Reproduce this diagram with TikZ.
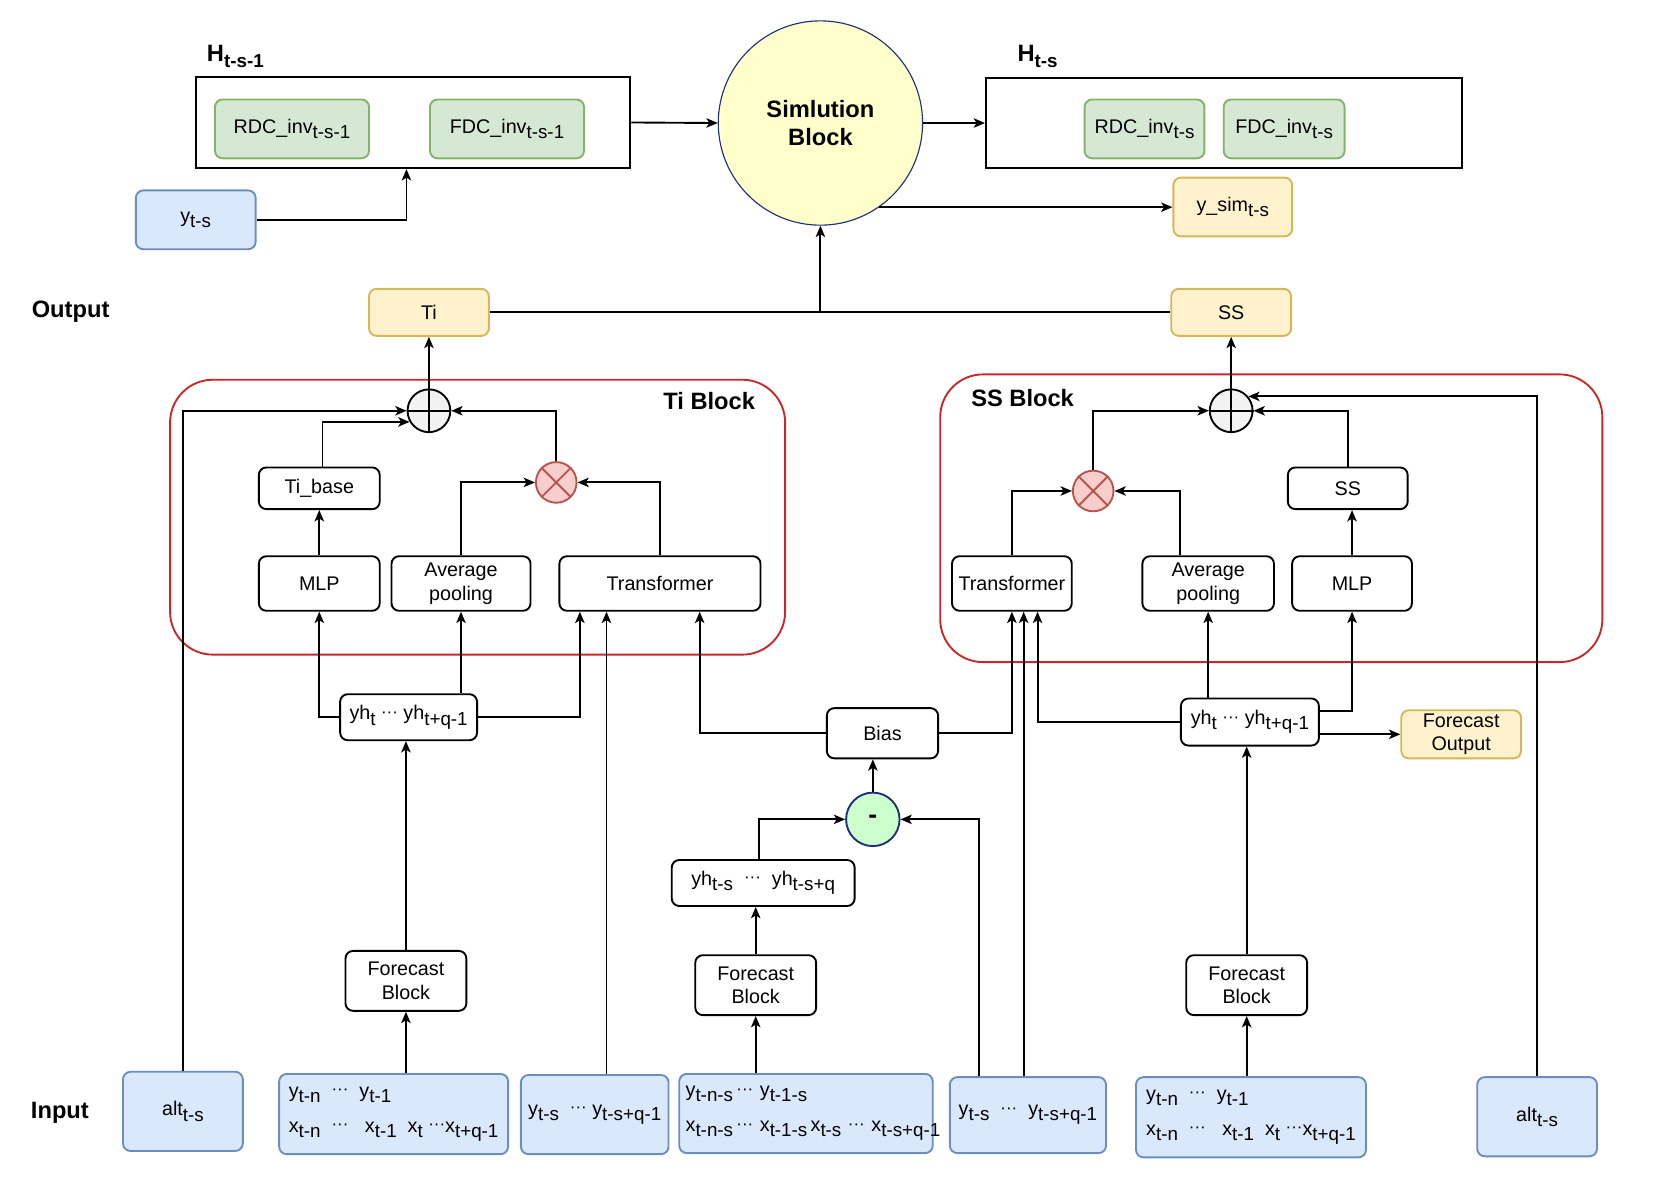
\documentclass[tikz,border=0pt]{standalone}
\usepackage{fontspec}
\setmainfont{Liberation Sans}
\usetikzlibrary{arrows.meta}

\definecolor{bluefill}{HTML}{DAE8FC}
\definecolor{blueline}{HTML}{6C8EBF}
\definecolor{greenfill}{HTML}{D5E8D4}
\definecolor{greenline}{HTML}{82B366}
\definecolor{yelfill}{HTML}{FFF2CC}
\definecolor{yelline}{HTML}{D6B656}
\definecolor{pinkfill}{HTML}{F8CECC}
\definecolor{pinkline}{HTML}{B85450}
\definecolor{blockred}{HTML}{C8282C}
\definecolor{simfill}{HTML}{FFFFCC}
\definecolor{navy}{HTML}{1F2F7A}
\definecolor{minusfill}{HTML}{CCFFCC}

\newcommand{\sub}[1]{\raisebox{-0.5ex}{\fontsize{10}{10}\selectfont#1}}
\newcommand{\dd}{\raisebox{0.25ex}{\fontsize{9}{9}\selectfont ···}}

\tikzset{
  base/.style={font=\fontsize{10.5}{12.6}\selectfont, inner sep=0pt, align=center},
  wh/.style 2 args={minimum width=#1*0.2mm, minimum height=#2*0.2mm},
  box/.style={base, draw, rounded corners=4pt, line width=1pt},
  bluebox/.style={box, fill=bluefill, draw=blueline},
  greenbox/.style={box, fill=greenfill, draw=greenline},
  yelbox/.style={box, fill=yelfill, draw=yelline},
  hbox/.style={base, draw, line width=1.3pt},
  lbl/.style={base, font=\bfseries\fontsize{12.6}{15.3}\selectfont},
  plusring/.style={base, circle, draw, fill=black!5, line width=1pt, minimum size=40*0.2mm},
  mulring/.style={base, circle, draw=pinkline, fill=pinkfill, line width=1pt, minimum size=38*0.2mm},
  blockline/.style={draw=blockred, line width=1pt, rounded corners=8mm},
  arr/.style={line width=1pt, -{Stealth[length=6pt,width=5pt,inset=1.5pt]}},
  ln/.style={line width=1pt}
}

\begin{document}
\begin{tikzpicture}[x=0.2mm, y=-0.2mm]
	\useasboundingbox (0,0) rectangle (1565,1108);
	% top row
	\node[lbl] (hprevlbl) at (220,53) {H\sub{t-s-1}};
	\node[hbox, wh={406}{85}] (hprev) at (386,114.5) {};
	\node[greenbox, wh={144}{55}] (rdc1) at (273,120.5) {RDC\_inv\sub{t-s-1}};
	\node[greenbox, wh={144}{55}] (fdc1) at (474,120.5) {FDC\_inv\sub{t-s-1}};
	\node[bluebox, wh={112}{55}] (yts) at (183,205.5) {y\sub{t-s}};
	\node[base, circle, draw=navy, fill=simfill, line width=0.6pt, minimum size=191*0.2mm,
	      font=\bfseries\fontsize{12.6}{15.3}\selectfont] (sim) at (767,115) {Simlution\\Block};
	\node[lbl] (hnextlbl) at (970,53) {H\sub{t-s}};
	\node[hbox, wh={445}{84}] (hnext) at (1144.5,115) {};
	\node[greenbox, wh={112}{55}] (rdc2) at (1070,120.5) {RDC\_inv\sub{t-s}};
	\node[greenbox, wh={113}{55}] (fdc2) at (1200.5,120.5) {FDC\_inv\sub{t-s}};
	\node[yelbox, wh={111}{55}] (ysim) at (1152.5,193.5) {y\_sim\sub{t-s}};
	\draw[arr] (yts.east) -| ([xshift=-1.2mm]hprev.south);
	\draw[arr] (hprev.east) -- (sim.west);
	\draw[arr] (sim.east) -- (hnext.west);
	\draw[arr] (sim.-55) -- (sim.-55 -| ysim.west);

	% outputs
	\node[lbl] (outlbl) at (66,291) {Output};
	\node[yelbox, wh={112}{44}] (ti) at (401,292) {Ti};
	\node[yelbox, wh={112}{44}] (ss) at (1151,292) {SS};
	\draw[ln] (ti.east) -- (ss.west);
	\draw[arr] (ti.east -| sim.south) -- (sim.south);

	% Ti block
	\draw[blockline] (159,355) rectangle (734,612);
	\node[lbl] (tiblk) at (663,375) {Ti Block};
	\node[plusring] (plus1) at (401,384) {};
	\draw[ln] (plus1.north) -- (plus1.south) (plus1.west) -- (plus1.east);
	\node[box, wh={113}{39}] (tibase) at (298.5,456.5) {Ti\_base};
	\node[mulring] (mul1) at (520,451) {};
	\draw[ln, pinkline] (mul1.45) -- (mul1.225) (mul1.135) -- (mul1.315);
	\node[box, wh={113}{51}] (mlp1) at (298.5,545.5) {MLP};
	\node[box, wh={130}{51}] (avg1) at (431,545.5) {Average\\pooling};
	\node[box, wh={188}{51}] (tr1) at (617,545.5) {Transformer};
	\node[box, wh={128}{43}] (yh1) at (382,670.5) {yh\sub{t} \dd\ yh\sub{t+q-1}};
	\node[box, wh={113}{56}] (fb1) at (379.5,917) {Forecast\\Block};
	\draw[arr] (plus1.north) -- (ti.south);
	\draw[arr] ([xshift=0.6mm]tibase.north) |- (plus1.210);
	\draw[arr] (mlp1) -- (tibase);
	\draw[arr] (avg1.north) |- (mul1.west);
	\draw[arr] (tr1.north) |- (mul1.east);
	\draw[arr] (mul1.north) |- (plus1.east);
	\draw[arr] (yh1.west) -| (mlp1.south);
	\draw[arr] (yh1.north -| avg1.south) -- (avg1.south);
	\draw[arr] (yh1.east) -| ([xshift=4mm]tr1.south west);
	\draw[arr] (fb1.north) -- (fb1.north |- yh1.south);

	% SS block
	\draw[blockline] (879,350) rectangle (1498,619);
	\node[lbl] (ssblk) at (956,372) {SS Block};
	\node[plusring] (plus2) at (1151,384) {};
	\draw[ln] (plus2.north) -- (plus2.south) (plus2.west) -- (plus2.east);
	\node[mulring] (mul2) at (1022,459) {};
	\draw[ln, pinkline] (mul2.45) -- (mul2.225) (mul2.135) -- (mul2.315);
	\node[box, wh={112}{39}] (ssin) at (1260,456.5) {SS};
	\node[box, wh={112}{51}] (tr2) at (946,545.5) {Transformer};
	\node[box, wh={123}{51}] (avg2) at (1129.5,545.5) {Average\\pooling};
	\node[box, wh={112}{51}] (mlp2) at (1264,545.5) {MLP};
	\node[box, wh={129}{44}] (yh2) at (1168.5,675) {yh\sub{t} \dd\ yh\sub{t+q-1}};
	\node[yelbox, wh={112}{45}] (fcout) at (1366,686.5) {Forecast\\Output};
	\node[box, wh={113}{56}] (fb3) at (1165.5,921) {Forecast\\Block};
	\draw[arr] (plus2.north) -- (ss.south);
	\draw[arr] (ssin.north) |- (plus2.east);
	\draw[arr] (mul2.north) |- (plus2.west);
	\draw[arr] (tr2.north) |- (mul2.west);
	\draw[arr] ([xshift=-5.3mm]avg2.north) |- (mul2.east);
	\draw[arr] (mlp2.north) -- (mlp2.north |- ssin.south);
	\draw[arr] (yh2.north -| avg2.south) -- (avg2.south);
	\draw[arr] ([yshift=2mm]yh2.east) -| (mlp2.south);
	\draw[arr] (yh2.east |- fcout.west) -- (fcout.west);
	\draw[arr] (yh2.west) -| ([xshift=4.8mm]tr2.south);
	\draw[arr] (fb3.north) -- (fb3.north |- yh2.south);

	% bias path
	\node[box, wh={104}{47}] (bias) at (825,685.5) {Bias};
	\node[base, circle, draw=navy, fill=minusfill, line width=1pt, minimum size=50*0.2mm,
	      font=\bfseries\fontsize{14}{14}\selectfont] (minus) at (816,766) {-};
	\node[box, wh={171}{43}] (yh3) at (713.5,825.5) {yh\sub{t-s} \ \dd\ \ yh\sub{t-s+q}};
	\node[box, wh={113}{56}] (fb2) at (706.5,921) {Forecast\\Block};
	\draw[arr] (bias.west) -| ([xshift=26.4mm]tr1.south west);
	\draw[arr] (bias.east) -| (tr2.south);
	\draw[arr] (minus.north) -- (minus.north |- bias.south);
	\draw[arr] ([xshift=-0.8mm]yh3.north) |- (minus.west);
	\draw[arr] (fb2.north) -- (fb2.north |- yh3.south);

	% inputs
	\node[lbl] (inlbl) at (56,1040) {Input};
	\node[bluebox, wh={112}{74}] (alt1) at (171,1039) {alt\sub{t-s}};
	\node[bluebox, wh={214}{75}, align=left] (in1) at (368,1041.5)
	     {y\sub{t-n} \ \dd\ \ y\sub{t-1}\\[6pt]x\sub{t-n} \ \dd\ \ \ x\sub{t-1} \ x\sub{t} \dd x\sub{t+q-1}};
	\node[bluebox, wh={138}{74}] (in2) at (556,1042) {y\sub{t-s} \ \dd\ y\sub{t-s+q-1}};
	\node[bluebox, wh={237}{74}, text width=225*0.2mm, align=left] (in3) at (753.5,1041)
	     {\mbox{y\sub{t-n-s}\,\dd\ y\sub{t-1-s}}\\[6pt]\mbox{x\sub{t-n-s}\,\dd\ x\sub{t-1-s}\,x\sub{t-s} \dd\ x\sub{t-s+q-1}}};
	\node[bluebox, wh={146}{71}] (in4) at (961,1042.5) {y\sub{t-s} \ \dd\ \ y\sub{t-s+q-1}};
	\node[bluebox, wh={215}{75}, align=left] (in5) at (1169.5,1044.5)
	     {y\sub{t-n} \ \dd\ \ y\sub{t-1}\\[6pt]x\sub{t-n} \ \dd\ \ \ x\sub{t-1} \ x\sub{t} \dd x\sub{t+q-1}};
	\node[bluebox, wh={112}{74}] (alt2) at (1437,1044) {alt\sub{t-s}};
	\draw[arr] (alt1.north) |- (plus1.west);
	\draw[arr] (fb1.south |- in1.north) -- (fb1.south);
	\draw[arr] ([xshift=2.2mm]in2.north) -- ([xshift=2.2mm]in2.north |- tr1.south);
	\draw[arr] (fb2.south |- in3.north) -- (fb2.south);
	\draw[arr] ([xshift=-9.2mm]in4.north) |- (minus.east);
	\draw[arr] ([xshift=2.2mm]tr2.south |- in4.north) -- ([xshift=2.2mm]tr2.south);
	\draw[arr] (fb3.south |- in5.north) -- (fb3.south);
	\draw[arr] (alt2.north) |- (plus2.40);
\end{tikzpicture}
\end{document}
